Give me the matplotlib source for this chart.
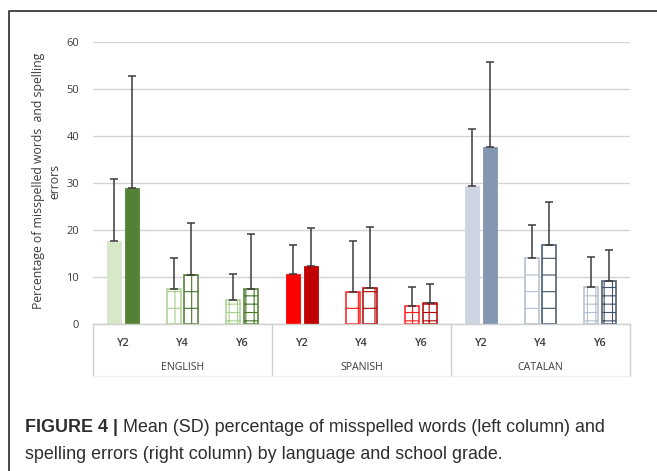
import matplotlib
matplotlib.use("Agg")
import matplotlib.pyplot as plt
from matplotlib.lines import Line2D
import numpy as np

# --- data: mean (SD) per language and school grade ---
languages = ["ENGLISH", "SPANISH", "CATALAN"]
grades = ["Y2", "Y4", "Y6"]

words_mean = [17.7, 7.4, 5.1, 10.7, 6.9, 3.8, 29.4, 14.0, 7.9]
words_sd = [13.1, 6.6, 5.5, 6.1, 10.8, 4.1, 12.1, 7.1, 6.4]
errors_mean = [28.9, 10.4, 7.4, 12.3, 7.7, 4.5, 37.7, 16.7, 9.2]
errors_sd = [23.8, 11.1, 11.7, 8.0, 12.9, 4.0, 18.0, 9.3, 6.5]

# (solid fill, hatched-bar edge) for the left / right column of each language
LEFT_COLORS = {
    "ENGLISH": ("#d6e7ca", "#a9d08e"),
    "SPANISH": ("#ff0000", "#ff1a1a"),
    "CATALAN": ("#cdd5e2", "#b4bfd0"),
}
RIGHT_COLORS = {
    "ENGLISH": ("#548235", "#4b7a2c"),
    "SPANISH": ("#c00000", "#b00000"),
    "CATALAN": ("#8497b0", "#44546a"),
}
GRADE_HATCH = {"Y2": None, "Y4": "+", "Y6": "++"}

plt.rcParams["hatch.linewidth"] = 0.8
plt.rcParams["font.family"] = ["Open Sans", "DejaVu Sans"]

W, H = 657, 471
fig = plt.figure(figsize=(W / 100, H / 100), dpi=100)
ax = fig.add_axes([93 / W, 1 - 324 / H, (630 - 93) / W, (324 - 41.7) / H])

x = np.arange(len(words_mean))
bw = 0.235
off = 0.146
ink = "#3c3c3c"

for i in range(len(x)):
    lang = languages[i // 3]
    grade = grades[i % 3]
    hatch = GRADE_HATCH[grade]
    for mean, sd, dx, cols in ((words_mean[i], words_sd[i], -off, LEFT_COLORS[lang]),
                               (errors_mean[i], errors_sd[i], off, RIGHT_COLORS[lang])):
        fill, edge = cols
        if hatch is None:
            ax.bar(x[i] + dx, mean, width=bw, color=fill, edgecolor=fill,
                   linewidth=0.6, zorder=2)
        else:
            ax.bar(x[i] + dx, mean, width=bw, facecolor="white", edgecolor=edge,
                   hatch=hatch, linewidth=1.1, zorder=2)
        ax.errorbar(x[i] + dx, mean, yerr=[[0], [sd]], fmt="none", ecolor=ink,
                    elinewidth=1.1, capsize=3, capthick=1.1, zorder=3)

ax.set_xlim(-0.5, len(x) - 0.5)
ax.set_ylim(0, 60)
ax.set_yticks(range(0, 61, 10))
ax.tick_params(axis="y", length=0, pad=10, labelsize=8, labelcolor=ink)
ax.set_xticks([])
ax.grid(axis="y", color="#d4d4d4", lw=1.0, zorder=0)
for side in ["top", "right", "left"]:
    ax.spines[side].set_visible(False)
ax.spines["bottom"].set_color("#cfcfcf")
ax.spines["bottom"].set_linewidth(1.0)

# category table under the axis
tr = ax.get_xaxis_transform()
depth = -52 / (324 - 41.7)
for xb in [-0.5, 2.5, 5.5, 8.5]:
    ax.plot([xb, xb], [0, depth], transform=tr, color="#d0d0d0", lw=1.0, clip_on=False)
ax.plot([-0.5, 8.5], [depth, depth], transform=tr, color="#f0f0f0", lw=1.0, clip_on=False)
for i in range(len(x)):
    ax.text(x[i], -19 / 282.3, grades[i % 3], transform=tr, ha="center", va="center",
            fontsize=7.8, color=ink, weight="semibold")
for k, lang in enumerate(languages):
    ax.text(3 * k + 1, -43 / 282.3, lang, transform=tr, ha="center", va="center",
            fontsize=7.6, color=ink)

fig.text(47 / W, 1 - 181 / H, "Percentage of misspelled words  and spelling\nerrors",
         rotation=90, ha="center", va="center", fontsize=8.8, color=ink,
         linespacing=1.35, multialignment="center")

# outer frame of the figure panel
fig.add_artist(Line2D([8.5 / W, 8.5 / W, 1.0], [0.0, 1 - 10.5 / H, 1 - 10.5 / H],
                      transform=fig.transFigure, color="#3a3a3a", lw=1.3))

# caption
cap_kw = dict(fontsize=12.9, color="#2e2e2e", family=["Liberation Sans", "DejaVu Sans"],
              va="baseline")
t1 = fig.text(25 / W, 1 - 432 / H, "FIGURE 4 |", weight="bold", **cap_kw)
fig.canvas.draw()
bb = t1.get_window_extent()
fig.text((bb.x1 + 5) / W, 1 - 432 / H,
         "Mean (SD) percentage of misspelled words (left column) and", **cap_kw)
fig.text(25 / W, 1 - 459 / H,
         "spelling errors (right column) by language and school grade.", **cap_kw)

fig.savefig("out.png", dpi=100)
